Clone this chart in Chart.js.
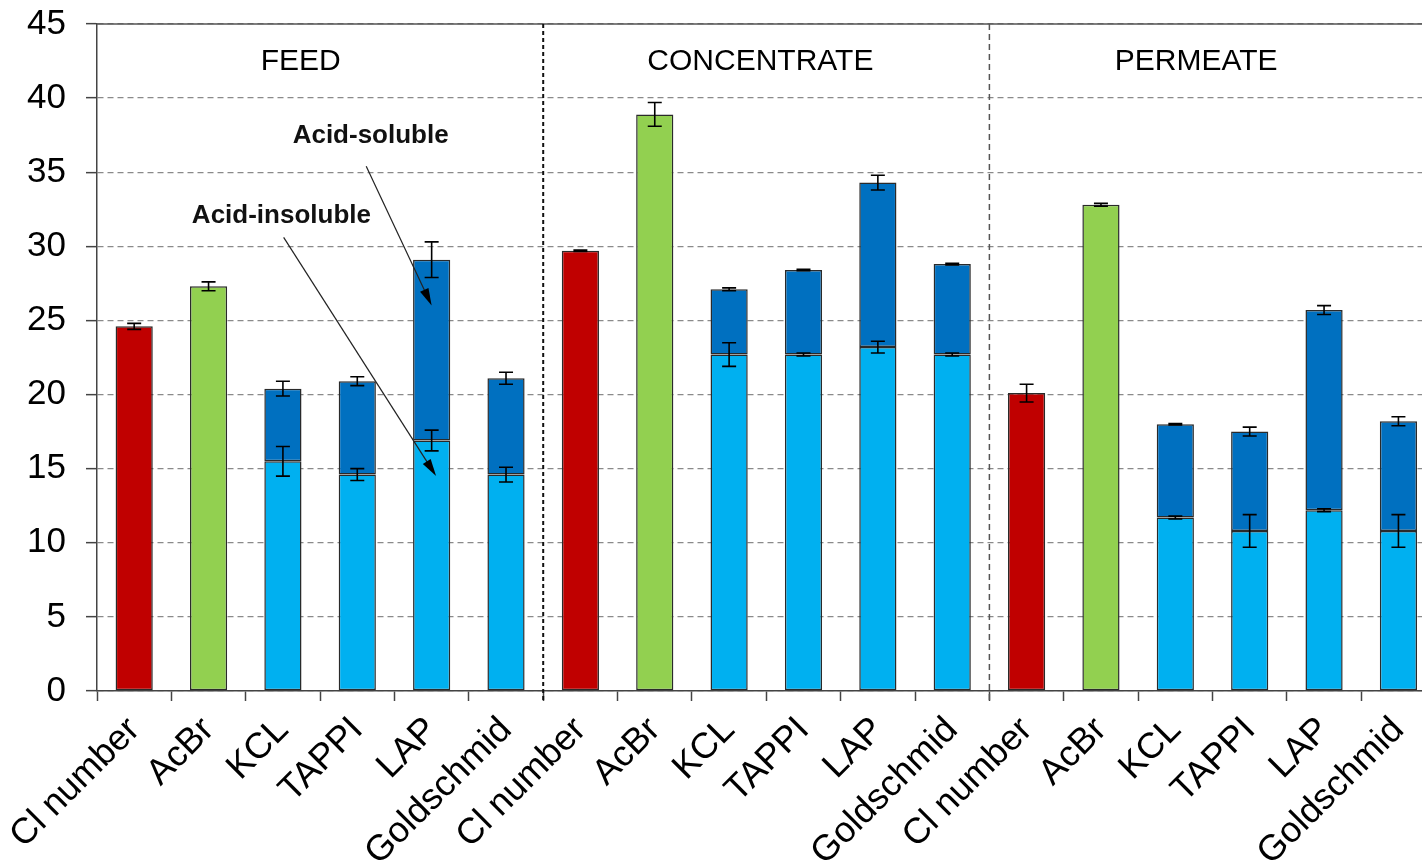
<!DOCTYPE html>
<html>
<head>
<meta charset="utf-8">
<script src="https://cdn.jsdelivr.net/npm/chart.js@4.4.0/dist/chart.umd.min.js"></script>
<style>
  html, body { margin: 0; padding: 0; background: #fff; overflow: hidden; }
  #wrap { width: 1437px; height: 867px; }
</style>
</head>
<body>
<div id="wrap"><canvas id="chart"></canvas></div>
<script>
// ---------- DATA ----------
const categories = [
  "Cl number", "AcBr", "KCL", "TAPPI", "LAP", "Goldschmid",
  "Cl number", "AcBr", "KCL", "TAPPI", "LAP", "Goldschmid",
  "Cl number", "AcBr", "KCL", "TAPPI", "LAP", "Goldschmid"
];
const groups      = ["FEED", "CONCENTRATE", "PERMEATE"];
const yTicks      = [0, 5, 10, 15, 20, 25, 30, 35, 40, 45];

const clNumber    = [24.6, null, null, null, null, null, 29.7, null, null, null, null, null, 20.1, null, null, null, null, null];
const clNumberErr = [0.2,  null, null, null, null, null, 0.05, null, null, null, null, null, 0.6,  null, null, null, null, null];
const acbr        = [null, 27.3, null, null, null, null, null, 38.9, null, null, null, null, null, 32.8, null, null, null, null];
const acbrErr     = [null, 0.3,  null, null, null, null, null, 0.8,  null, null, null, null, null, 0.1,  null, null, null, null];
const insoluble    = [null, null, 15.5, 14.6, 16.9, 14.6, null, null, 22.7, 22.7, 23.2, 22.7, null, null, 11.7, 10.8, 12.2, 10.8];
const insolubleErr = [null, null, 1.0,  0.4,  0.7,  0.5,  null, null, 0.8,  0.1,  0.4,  0.1,  null, null, 0.1,  1.1,  0.1,  1.1];
const totalLignin  = [null, null, 20.4, 20.9, 29.1, 21.1, null, null, 27.1, 28.4, 34.3, 28.8, null, null, 18.0, 17.5, 25.7, 18.2];
const totalErr     = [null, null, 0.5,  0.3,  1.2,  0.4,  null, null, 0.1,  0.05, 0.5,  0.05, null, null, 0.05, 0.3,  0.3,  0.3];
const soluble = totalLignin.map((t, i) => t === null ? null : +(t - insoluble[i]).toFixed(2));

const FONT = "'Liberation Sans', Arial, sans-serif";

// ---------- PLUGINS ----------
// error bars, drawn at the top of each bar segment
const errorBars = {
  id: "errorBars",
  afterDatasetsDraw(chart) {
    const ctx = chart.ctx, y = chart.scales.y;
    const sets = [
      { ds: 0, tops: clNumber, errs: clNumberErr },
      { ds: 1, tops: acbr, errs: acbrErr },
      { ds: 2, tops: insoluble, errs: insolubleErr },
      { ds: 3, tops: totalLignin, errs: totalErr }
    ];
    ctx.save();
    ctx.strokeStyle = "#000";
    ctx.lineWidth = 1.6;
    sets.forEach(s => {
      const meta = chart.getDatasetMeta(s.ds);
      s.tops.forEach((v, i) => {
        if (v === null) return;
        const x  = meta.data[i].x;
        const y1 = y.getPixelForValue(v + s.errs[i]);
        const y2 = y.getPixelForValue(v - s.errs[i]);
        ctx.beginPath();
        ctx.moveTo(x, y1); ctx.lineTo(x, y2);
        ctx.moveTo(x - 7, y1); ctx.lineTo(x + 7, y1);
        ctx.moveTo(x - 7, y2); ctx.lineTo(x + 7, y2);
        ctx.stroke();
      });
    });
    ctx.restore();
  }
};

// group separators, top border, group titles and arrows
const decorations = {
  id: "decorations",
  beforeDatasetsDraw(chart) {
    const ctx = chart.ctx, a = chart.chartArea, x = chart.scales.x;
    ctx.save();
    // top border
    ctx.strokeStyle = "#555";
    ctx.lineWidth = 1.5;
    ctx.beginPath(); ctx.moveTo(a.left, a.top); ctx.lineTo(a.right + 2, a.top); ctx.stroke();
    // separators
    const sep1 = x.getPixelForValue(5.5), sep2 = x.getPixelForValue(11.5);
    ctx.strokeStyle = "#111"; ctx.lineWidth = 2; ctx.setLineDash([4, 3]);
    ctx.beginPath(); ctx.moveTo(sep1, a.top); ctx.lineTo(sep1, a.bottom + 10); ctx.stroke();
    ctx.strokeStyle = "#555"; ctx.lineWidth = 1.5; ctx.setLineDash([6, 4]);
    ctx.beginPath(); ctx.moveTo(sep2, a.top); ctx.lineTo(sep2, a.bottom + 10); ctx.stroke();
    ctx.restore();
  },
  afterDatasetsDraw(chart) {
    const ctx = chart.ctx, x = chart.scales.x, y = chart.scales.y;
    ctx.save();
    ctx.fillStyle = "#000";
    ctx.textAlign = "center";
    ctx.textBaseline = "middle";
    ctx.font = "30px " + FONT;
    const gx = [2.24, 8.42, 14.28];
    groups.forEach((g, i) => ctx.fillText(g, x.getPixelForValue(gx[i]), y.getPixelForValue(42.45)));

    ctx.font = "bold 26px " + FONT;
    ctx.fillStyle = "#111";
    ctx.fillText("Acid-soluble", x.getPixelForValue(3.18), y.getPixelForValue(37.45));
    ctx.fillText("Acid-insoluble", x.getPixelForValue(1.98), y.getPixelForValue(32.05));

    const arrow = (i1, v1, i2, v2) => {
      const x1 = x.getPixelForValue(i1), y1 = y.getPixelForValue(v1);
      const x2 = x.getPixelForValue(i2), y2 = y.getPixelForValue(v2);
      const ang = Math.atan2(y2 - y1, x2 - x1);
      ctx.strokeStyle = "#222"; ctx.fillStyle = "#000"; ctx.lineWidth = 1.2;
      ctx.beginPath(); ctx.moveTo(x1, y1); ctx.lineTo(x2 - 10 * Math.cos(ang), y2 - 10 * Math.sin(ang)); ctx.stroke();
      ctx.beginPath();
      ctx.moveTo(x2, y2);
      ctx.lineTo(x2 - 18 * Math.cos(ang - 0.26), y2 - 18 * Math.sin(ang - 0.26));
      ctx.lineTo(x2 - 18 * Math.cos(ang + 0.26), y2 - 18 * Math.sin(ang + 0.26));
      ctx.closePath(); ctx.fill();
    };
    arrow(3.12, 35.4, 4.0, 26.0);
    arrow(2.01, 30.6, 4.06, 14.5);
    ctx.restore();
  }
};

// ---------- CHART ----------
const barStyle = { borderColor: "#2a2a2a", borderWidth: 1.5, borderSkipped: false, stack: "s", barPercentage: 0.5, categoryPercentage: 1.0 };

new Chart(document.getElementById("chart").getContext("2d"), {
  type: "bar",
  data: {
    labels: categories,
    datasets: [
      { label: "Cl number", data: clNumber, backgroundColor: "#C00000", ...barStyle },
      { label: "AcBr", data: acbr, backgroundColor: "#92D050", ...barStyle },
      { label: "Acid-insoluble", data: insoluble, backgroundColor: "#00B0F0", ...barStyle },
      { label: "Acid-soluble", data: soluble, backgroundColor: "#0070C0", ...barStyle }
    ]
  },
  options: {
    responsive: true,
    maintainAspectRatio: false,
    animation: false,
    layout: { padding: { top: 0, right: 1, left: 0, bottom: 0 } },
    plugins: { legend: { display: false }, tooltip: { enabled: false } },
    scales: {
      x: {
        stacked: true,
        afterFit: (s) => { s.height = 176; },
        grid: { drawOnChartArea: false, drawTicks: true, tickLength: 10, tickColor: "#444", tickWidth: 1.5 },
        border: { color: "#444", width: 1.5 },
        ticks: { color: "#000", font: { family: FONT, size: 36 }, minRotation: 45, maxRotation: 45, autoSkip: false, padding: 8 }
      },
      y: {
        stacked: true,
        min: 0, max: 45,
        afterFit: (s) => { s.width = 97; s.paddingTop = 24; s.paddingBottom = 0; },
        afterBuildTicks: (s) => { s.ticks = yTicks.map(v => ({ value: v })); },
        grid: { color: "#8a8a8a", lineWidth: 1.3, drawTicks: true, tickLength: 11, tickColor: "#444", tickWidth: 1.5, tickBorderDash: [] },
        border: { color: "#444", width: 1.5, dash: [6, 4] },
        ticks: { color: "#000", font: { family: FONT, size: 35 }, padding: 20 }
      }
    }
  },
  plugins: [decorations, errorBars]
});
</script>
</body>
</html>
